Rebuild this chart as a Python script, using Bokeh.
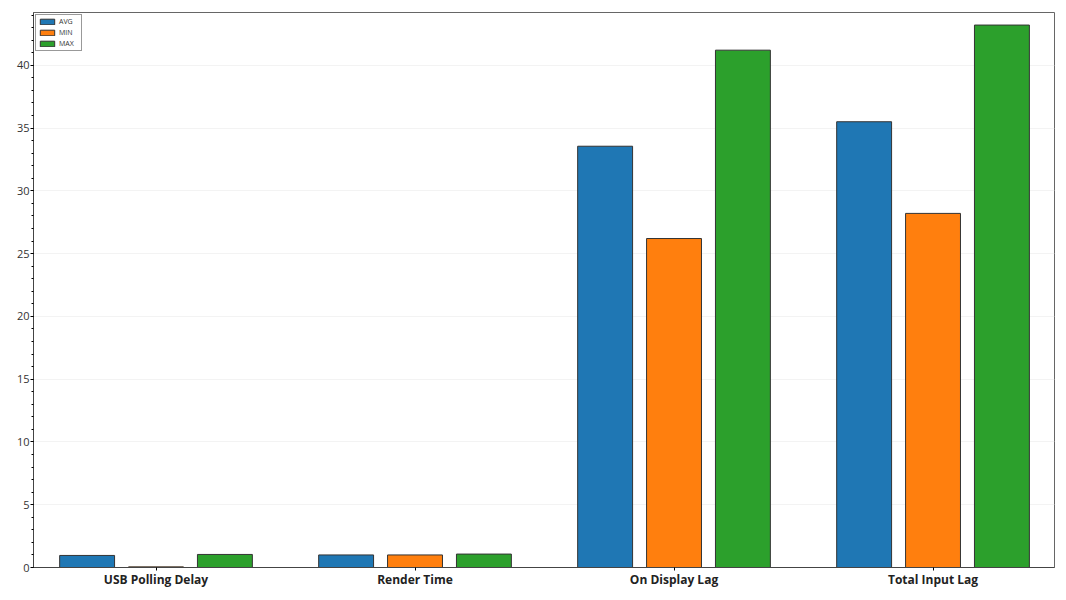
from bokeh.plotting import figure
from bokeh.models import Range1d, FixedTicker, SingleIntervalTicker, ColumnDataSource, Legend, LegendItem
from bokeh.transform import dodge
from bokeh.embed import file_html
from bokeh.resources import INLINE

categories = ["USB Polling Delay", "Render Time", "On Display Lag", "Total Input Lag"]
avg_vals = [0.96, 1.0, 33.55, 35.5]
min_vals = [0.05, 1.0, 26.2, 28.2]
max_vals = [1.04, 1.07, 41.2, 43.2]
series_names = ["AVG", "MIN", "MAX"]
colors = ["#1f77b4", "#ff7f0e", "#2ca02c"]

idx = list(range(len(categories)))
source = ColumnDataSource(dict(x=idx, AVG=avg_vals, MIN=min_vals, MAX=max_vals))

p = figure(width=1066, height=600, frame_width=1021, frame_height=555,
           output_backend="svg", toolbar_location=None,
           x_range=Range1d(-0.473, 3.469), y_range=Range1d(0, 44.2),
           min_border_left=33, min_border_right=12, min_border_top=12, min_border_bottom=33)

offsets = [-0.266, 0.0, 0.266]
items = []
for name, col, off in zip(series_names, colors, offsets):
    r = p.vbar(x=dodge("x", off), top=name, width=0.212, source=source,
               fill_color=col, line_color="#333333", line_width=1)
    items.append(LegendItem(label=name, renderers=[r]))

legend = Legend(items=items, location="top_left", glyph_width=18, glyph_height=7,
                label_height=7, label_text_font_size="7px", label_standoff=3,
                padding=2, spacing=2, margin=2, border_line_color="#333333",
                label_text_font="Open Sans", label_text_color="#333333")
p.add_layout(legend, "center")

xa = p.xaxis[0]
xa.ticker = FixedTicker(ticks=idx)
xa.major_label_overrides = {i: c for i, c in enumerate(categories)}
xa.major_label_text_font = "Open Sans"
xa.major_label_text_font_style = "bold"
xa.major_label_text_font_size = "12px"
xa.major_label_text_color = "#222222"
xa.major_tick_out = 3
xa.major_tick_in = 0
xa.minor_tick_line_color = None
xa.major_label_standoff = 0
xa.axis_line_color = "#444444"

ya = p.yaxis[0]
ya.ticker = SingleIntervalTicker(interval=5, num_minor_ticks=5)
ya.major_label_text_font = "Open Sans"
ya.major_label_text_font_size = "11px"
ya.major_label_text_color = "#333333"
ya.major_tick_out = 3
ya.major_tick_in = 0
ya.minor_tick_out = 2
ya.minor_tick_in = 0
ya.major_label_standoff = 1
ya.axis_line_color = "#444444"

p.xgrid.visible = False
p.ygrid.grid_line_color = "#f3f3f3"
p.outline_line_color = "#666666"
p.outline_line_width = 1

open("out.html", "w").write(file_html(p, INLINE))
